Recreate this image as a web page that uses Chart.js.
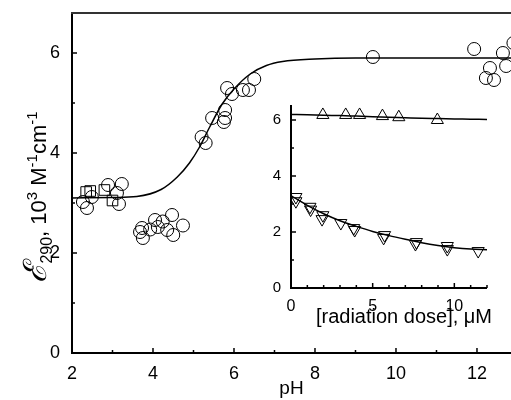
<!DOCTYPE html>
<html>
<head>
<meta charset="utf-8">
<script src="https://cdn.jsdelivr.net/npm/chart.js@4/dist/chart.umd.min.js"></script>
<style>
  html, body { margin: 0; padding: 0; background: #fff; overflow: hidden; }
  #wrap { position: relative; width: 511px; height: 400px; }
  #main { position: absolute; left: 0; top: 0; }
  #inset { position: absolute; left: 262px; top: 95px; }
</style>
</head>
<body>
<div id="wrap">
  <canvas id="main" width="511" height="400"></canvas>
  <canvas id="inset" width="249" height="235"></canvas>
</div>
<script>
// main panel: extinction coefficient vs pH
const phCircles = [2.27, 2.37, 2.49, 2.89, 3.11, 3.16, 3.23,
  3.68, 3.73, 3.75, 3.93, 4.05, 4.12, 4.24, 4.35, 4.47, 4.5, 4.74,
  5.2, 5.3, 5.46, 5.75, 5.78, 5.78, 5.83, 5.95, 6.22, 6.37, 6.5,
  9.43, 11.93, 12.22, 12.32, 12.42, 12.64, 12.72, 12.9];
const epsCircles = [3.02, 2.9, 3.12, 3.36, 3.2, 2.98, 3.38,
  2.42, 2.5, 2.3, 2.47, 2.66, 2.52, 2.63, 2.46, 2.76, 2.36, 2.55,
  4.32, 4.2, 4.7, 4.62, 4.7, 4.86, 5.3, 5.18, 5.26, 5.26, 5.48,
  5.92, 6.08, 5.5, 5.7, 5.46, 6.0, 5.74, 6.2];
const phSquares = [2.35, 2.45, 2.8, 3.0];
const epsSquares = [3.22, 3.24, 3.26, 3.05];
const phFit = [2, 3, 3.6, 4.2, 4.6, 4.9, 5.15, 5.4, 5.7, 6.0, 6.4, 6.8, 7.2, 8, 9, 13];
const epsFit = [3.1, 3.11, 3.13, 3.27, 3.52, 3.8, 4.12, 4.52, 4.97, 5.28, 5.58, 5.75, 5.83, 5.88, 5.9, 5.9];
const pHTicks = [2, 4, 6, 8, 10, 12];
const epsTicks = [0, 2, 4, 6];

// inset: extinction coefficient vs radiation dose
const doseUp = [1.95, 3.35, 4.2, 5.6, 6.6, 8.96];
const epsUp = [6.18, 6.18, 6.18, 6.14, 6.1, 6.0];
const doseDown = [0.3, 0.3, 1.16, 1.2, 1.95, 1.9, 3.05, 3.84, 3.9, 5.73, 5.67, 7.68, 7.62, 9.57, 9.57, 11.46];
const epsDown = [3.25, 3.1, 2.9, 2.8, 2.6, 2.46, 2.32, 2.14, 2.07, 1.89, 1.79, 1.64, 1.57, 1.5, 1.39, 1.32];
const doseFit = [0, 1, 2, 3, 4, 5, 6, 7, 8, 9, 10, 11, 12];
const fitUp = [6.2, 6.19, 6.17, 6.16, 6.14, 6.12, 6.1, 6.08, 6.06, 6.05, 6.04, 6.03, 6.02];
const fitDown = [3.3, 2.95, 2.65, 2.4, 2.2, 2.02, 1.87, 1.74, 1.62, 1.52, 1.44, 1.39, 1.37];
const doseTicks = [0, 5, 10];
const insetEpsTicks = [0, 2, 4, 6];

const FONT = '"Liberation Sans", Arial, sans-serif';
const pts = (xs, ys) => xs.map((x, i) => ({ x: x, y: ys[i] }));
const range = (a, b, s) => { const r = []; for (let v = a; v <= b + 1e-9; v += s) r.push(v); return r; };

// axis lines and inward ticks
const frame = {
  id: "frame",
  afterDraw(chart, args, o) {
    const ctx = chart.ctx, a = chart.chartArea;
    const sx = chart.scales.x, sy = chart.scales.y;
    ctx.save();
    ctx.strokeStyle = "#000";
    ctx.lineWidth = 2;
    ctx.beginPath();
    ctx.moveTo(a.left, a.top - 1); ctx.lineTo(a.left, a.bottom);
    ctx.lineTo(a.right, a.bottom);
    ctx.stroke();
    if (o.top) {
      ctx.strokeStyle = "#333";
      ctx.beginPath();
      ctx.moveTo(a.left - 1, a.top); ctx.lineTo(a.right, a.top);
      ctx.stroke();
    }
    ctx.strokeStyle = "#000";
    ctx.lineWidth = 1.5;
    const tick = (list, len, horiz) => list.forEach(v => {
      ctx.beginPath();
      if (horiz) {
        const p = sx.getPixelForValue(v);
        if (p > a.right + 1) return;
        ctx.moveTo(p, a.bottom); ctx.lineTo(p, a.bottom - len);
      } else {
        const p = sy.getPixelForValue(v);
        ctx.moveTo(a.left, p); ctx.lineTo(a.left + len, p);
      }
      ctx.stroke();
    });
    tick(o.xMajor, o.major, true);
    tick(o.xMinor, o.minor, true);
    tick(o.yMajor, o.major, false);
    tick(o.yMinor, o.minor, false);
    if (o.xTitle) {
      ctx.fillStyle = "#000";
      ctx.font = o.xTitle.font;
      ctx.textAlign = "right";
      ctx.textBaseline = "alphabetic";
      ctx.fillText(o.xTitle.text, a.right + o.xTitle.dx, a.bottom + o.xTitle.dy);
    }
    ctx.restore();
  }
};

// rotated y title with sub/superscripts
const yTitle = {
  id: "yTitle",
  afterDraw(chart, args, o) {
    if (!o.parts) return;
    const ctx = chart.ctx;
    ctx.save();
    ctx.fillStyle = "#000";
    ctx.textBaseline = "alphabetic";
    let total = 0;
    o.parts.forEach(p => { ctx.font = p.font; total += ctx.measureText(p.t).width; });
    ctx.translate(o.x, o.y);
    ctx.rotate(-Math.PI / 2);
    let cx = -total / 2;
    o.parts.forEach(p => {
      ctx.font = p.font;
      ctx.fillText(p.t, cx, p.dy || 0);
      cx += ctx.measureText(p.t).width;
    });
    ctx.restore();
  }
};

const ticksFrom = (list) => (scale) => { scale.ticks = list.map(v => ({ value: v })); };
const fitX = (h) => (s) => { s.height = h; s.paddingLeft = 0; s.paddingRight = 0; };
const fitY = (w) => (s) => { s.width = w; s.paddingTop = 0; s.paddingBottom = 0; };

new Chart(document.getElementById("main"), {
  type: "scatter",
  data: {
    datasets: [
      {
        data: pts(phFit, epsFit),
        showLine: true,
        cubicInterpolationMode: "monotone",
        borderColor: "#000",
        borderWidth: 1.5,
        pointRadius: 0,
      },
      {
        data: pts(phCircles, epsCircles),
        pointStyle: "circle",
        pointRadius: 6.5,
        borderColor: "#000",
        borderWidth: 1,
        backgroundColor: "rgba(0,0,0,0)",
      },
      {
        data: pts(phSquares, epsSquares),
        pointStyle: "rect",
        pointRadius: 7.5,
        borderColor: "#000",
        borderWidth: 1,
        backgroundColor: "rgba(0,0,0,0)",
      },
    ],
  },
  options: {
    responsive: false,
    animation: false,
    devicePixelRatio: 1,
    layout: { autoPadding: false, padding: { top: 13, right: 0, left: 0, bottom: 0 } },
    plugins: {
      legend: { display: false },
      tooltip: { enabled: false },
      frame: {
        top: true, major: 5, minor: 3,
        xMajor: pHTicks, xMinor: range(3, 13, 2),
        yMajor: epsTicks, yMinor: [1, 3, 5],
      },
      yTitle: {
        x: 46, y: 197,
        parts: [
          { t: "\u2130", font: "italic 32px \"DejaVu Serif\", serif" },
          { t: "290", font: "16px " + FONT, dy: 6 },
          { t: ", 10", font: "22px " + FONT },
          { t: "3", font: "15px " + FONT, dy: -9 },
          { t: " M", font: "22px " + FONT },
          { t: "-1", font: "15px " + FONT, dy: -9 },
          { t: "cm", font: "22px " + FONT },
          { t: "-1", font: "15px " + FONT, dy: -9 },
        ],
      },
    },
    scales: {
      x: {
        type: "linear",
        min: 2,
        max: 12.84,
        afterBuildTicks: ticksFrom(pHTicks),
        afterFit: fitX(47),
        grid: { display: false },
        border: { display: false },
        ticks: { color: "#000", font: { family: FONT, size: 18 }, padding: 2 },
        title: { display: true, text: "pH", color: "#000", font: { family: FONT, size: 19 }, padding: 0 },
      },
      y: {
        min: 0,
        max: 6.8,
        afterBuildTicks: ticksFrom(epsTicks),
        afterFit: fitY(72),
        grid: { display: false },
        border: { display: false },
        ticks: { color: "#000", font: { family: FONT, size: 18 }, padding: 4 },
      },
    },
  },
  plugins: [frame, yTitle],
});

new Chart(document.getElementById("inset"), {
  type: "scatter",
  data: {
    datasets: [
      {
        data: pts(doseFit, fitUp),
        showLine: true,
        cubicInterpolationMode: "monotone",
        borderColor: "#000",
        borderWidth: 1.5,
        pointRadius: 0,
      },
      {
        data: pts(doseFit, fitDown),
        showLine: true,
        cubicInterpolationMode: "monotone",
        borderColor: "#000",
        borderWidth: 1.5,
        pointRadius: 0,
      },
      {
        data: pts(doseUp, epsUp),
        pointStyle: "triangle",
        pointRadius: 7,
        borderColor: "#000",
        borderWidth: 1,
        backgroundColor: "rgba(0,0,0,0)",
      },
      {
        data: pts(doseDown, epsDown),
        pointStyle: "triangle",
        rotation: 180,
        pointRadius: 7,
        borderColor: "#000",
        borderWidth: 1,
        backgroundColor: "rgba(0,0,0,0)",
      },
    ],
  },
  options: {
    responsive: false,
    animation: false,
    devicePixelRatio: 1,
    layout: { autoPadding: false, padding: { top: 11, right: 24, left: 0, bottom: 0 } },
    plugins: {
      legend: { display: false },
      tooltip: { enabled: false },
      frame: {
        top: false, major: 5, minor: 3,
        xMajor: doseTicks, xMinor: range(1, 12, 1).filter(v => v % 5 !== 0),
        yMajor: insetEpsTicks, yMinor: [1, 3, 5],
        xTitle: { text: "[radiation dose], \u03bcM", font: "20px " + FONT, dx: 5, dy: 35 },
      },
    },
    scales: {
      x: {
        type: "linear",
        min: 0,
        max: 12,
        afterBuildTicks: ticksFrom(doseTicks),
        afterFit: fitX(42),
        grid: { display: false },
        border: { display: false },
        ticks: { color: "#000", font: { family: FONT, size: 16 }, padding: 1 },
      },
      y: {
        min: 0,
        max: 6.5,
        afterBuildTicks: ticksFrom(insetEpsTicks),
        afterFit: fitY(29),
        grid: { display: false },
        border: { display: false },
        ticks: { color: "#000", font: { family: FONT, size: 15 }, padding: 2 },
      },
    },
  },
  plugins: [frame],
});
</script>
</body>
</html>
